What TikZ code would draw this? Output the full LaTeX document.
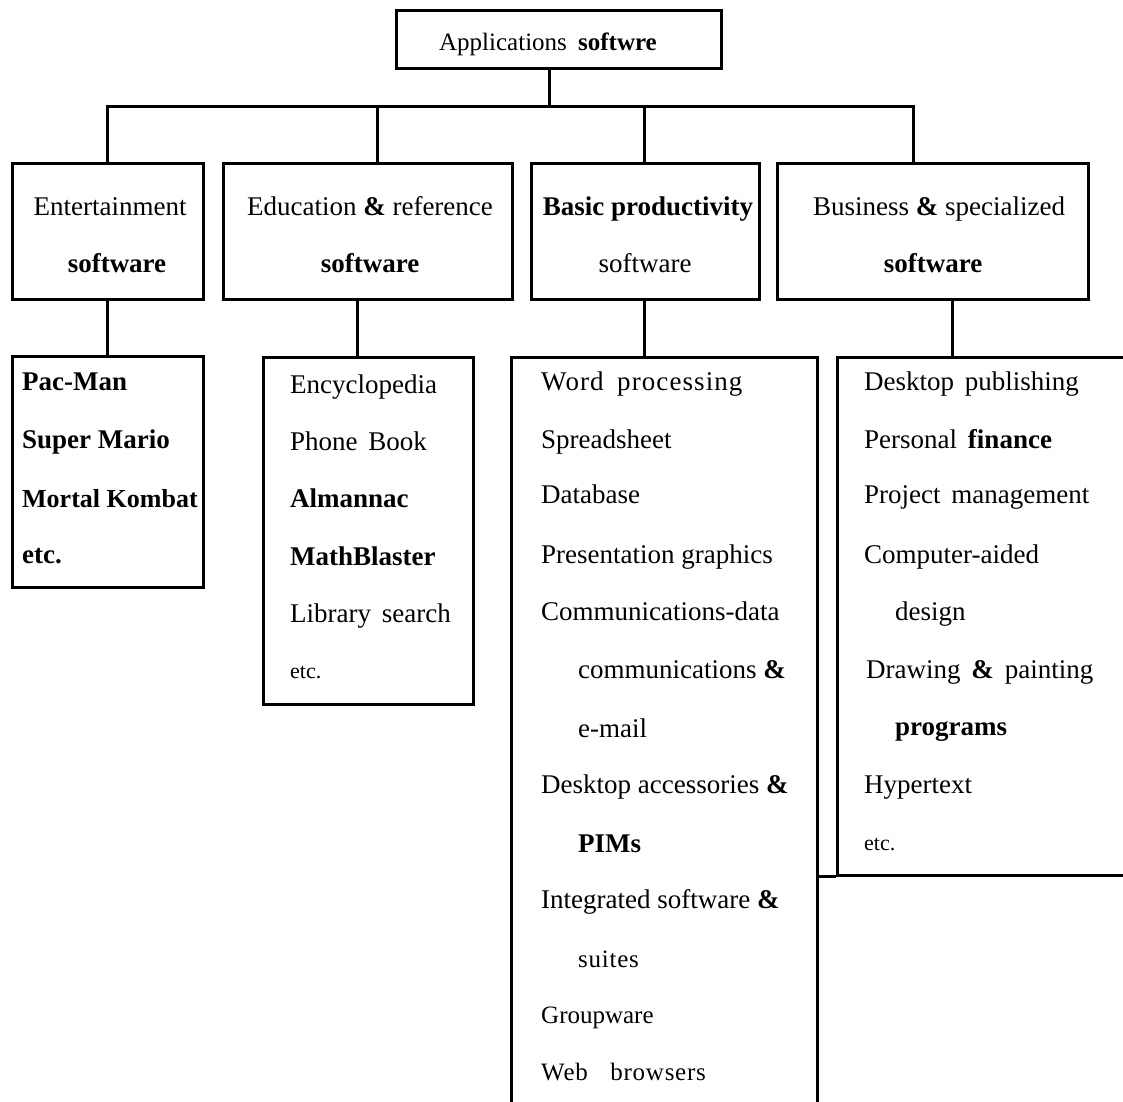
\documentclass[tikz,border=0pt]{standalone}
\usepackage{fontspec}
\setmainfont{Liberation Serif}
\begin{document}
\begin{tikzpicture}[x=1pt,y=-1pt,
  frame/.style={draw, line width=3pt, inner sep=0pt, rectangle},
  conn/.style={line width=3pt},
  txt/.style={inner sep=0pt, font=\fontsize{27}{30}\selectfont},
  small/.style={font=\fontsize{22}{26}\selectfont},
  lt/.style={txt, anchor=base west},
  ct/.style={txt, anchor=base}]
\useasboundingbox (0,0) rectangle (1123,1101);

% root
\node[frame, minimum width=325pt, minimum height=58pt] (root) at (558.5,39) {};
\node[ct, font=\fontsize{25}{28}\selectfont] (rootT) at (548,50) {Applications\hspace{0.45em}\textbf{softwre}};

% categories
\node[frame, minimum width=191pt, minimum height=136pt] (ent) at (107.5,231) {};
\node[frame, minimum width=289pt, minimum height=136pt] (edu) at (367.5,231) {};
\node[frame, minimum width=228pt, minimum height=136pt] (bas) at (645,231) {};
\node[frame, minimum width=311pt, minimum height=136pt] (biz) at (932.5,231) {};

% bus
\coordinate (stem) at (549,106);
\coordinate (dEnt) at (107,106);
\coordinate (dEdu) at (377,106);
\coordinate (dBas) at (644,106);
\coordinate (dBiz) at (913,106);
\draw[conn] (root.south -| stem) -- (stem);
\draw[conn] (dEnt |- ent.north) -- (dEnt) -- (dBiz) -- (dBiz |- biz.north);
\draw[conn] (dEdu) -- (dEdu |- edu.north);
\draw[conn] (dBas) -- (dBas |- bas.north);

% lists
\node[frame, minimum width=191pt, minimum height=231pt] (entL) at (107.5,471.5) {};
\node[frame, minimum width=210pt, minimum height=347pt] (eduL) at (368,530.5) {};
\node[frame, minimum width=306pt, minimum height=790pt] (basL) at (664,752) {};
\node[frame, minimum width=310pt, minimum height=518pt] (bizL) at (992,616) {};
\draw[conn] (basL.east |- bizL.south) -- (bizL.south west);

% lower drops
\coordinate (xEnt) at (107,0);
\coordinate (xEdu) at (357,0);
\coordinate (xBas) at (644,0);
\coordinate (xBiz) at (952,0);
\draw[conn] (ent.south -| xEnt) -- (entL.north -| xEnt);
\draw[conn] (edu.south -| xEdu) -- (eduL.north -| xEdu);
\draw[conn] (bas.south -| xBas) -- (basL.north -| xBas);
\draw[conn] (biz.south -| xBiz) -- (bizL.north -| xBiz);

% category texts
\node[ct] (entA) at (110,215) {Entertainment};
\node[ct] (entB) at (117,272) {\textbf{software}};
\node[ct] (eduA) at (370,215) {Education \textbf{\&} reference};
\node[ct] (eduB) at (370,272) {\textbf{software}};
\node[ct] (basA) at (648,215) {\textbf{Basic productivity}};
\node[ct] (basB) at (645,272) {software};
\node[ct] (bizA) at (939,215) {Business \textbf{\&} specialized};
\node[ct] (bizB) at (933,272) {\textbf{software}};

% entertainment list
\node[lt] (e1) at (22,390) {\textbf{Pac-Man}};
\node[lt] (e2) at (22,448) {\textbf{Super Mario}};
\node[lt, font=\fontsize{26}{30}\selectfont] (e3) at (22,507) {\textbf{Mortal Kombat}};
\node[lt] (e4) at (22,563) {\textbf{etc.}};

% education list
\node[lt] (d1) at (290,393) {Encyclopedia};
\node[lt] (d2) at (290,450) {Phone\hspace{0.4em}Book};
\node[lt] (d3) at (290,507) {\textbf{Almannac}};
\node[lt] (d4) at (290,565) {\textbf{MathBlaster}};
\node[lt] (d5) at (290,622) {Library\hspace{0.4em}search};
\node[lt, small] (d6) at (290,678) {etc.};

% basic productivity list
\node[lt] (b1) at (541,390) {\addfontfeatures{LetterSpace=4}Word\hspace{0.5em}processing};
\node[lt] (b2) at (541,448) {Spreadsheet};
\node[lt] (b3) at (541,503) {Database};
\node[lt] (b4) at (541,563) {Presentation graphics};
\node[lt] (b5) at (541,620) {Communications-data};
\node[lt] (b6) at (578,678) {communications \textbf{\&}};
\node[lt] (b7) at (578,737) {e-mail};
\node[lt] (b8) at (541,793) {Desktop accessories \textbf{\&}};
\node[lt] (b9) at (578,852) {\textbf{PIMs}};
\node[lt] (b10) at (541,908) {Integrated software \textbf{\&}};
\node[lt, font=\fontsize{25}{28}\selectfont] (b11) at (578,967) {\addfontfeatures{LetterSpace=3}suites};
\node[lt, font=\fontsize{25}{28}\selectfont] (b12) at (541,1023) {Groupware};
\node[lt, font=\fontsize{25}{28}\selectfont] (b13) at (541,1080) {\addfontfeatures{LetterSpace=3}Web\hspace{0.9em}browsers};

% business list
\node[lt] (z1) at (864,390) {Desktop\hspace{0.4em}publishing};
\node[lt] (z2) at (864,448) {Personal\hspace{0.4em}\textbf{finance}};
\node[lt] (z3) at (864,503) {Project\hspace{0.4em}management};
\node[lt] (z4) at (864,563) {Computer-aided};
\node[lt] (z5) at (895,620) {design};
\node[lt] (z6) at (866,678) {Drawing\hspace{0.4em}\textbf{\&}\hspace{0.4em}painting};
\node[lt] (z7) at (895,735) {\textbf{programs}};
\node[lt] (z8) at (864,793) {Hypertext};
\node[lt, small] (z9) at (864,850) {etc.};
\end{tikzpicture}
\end{document}
